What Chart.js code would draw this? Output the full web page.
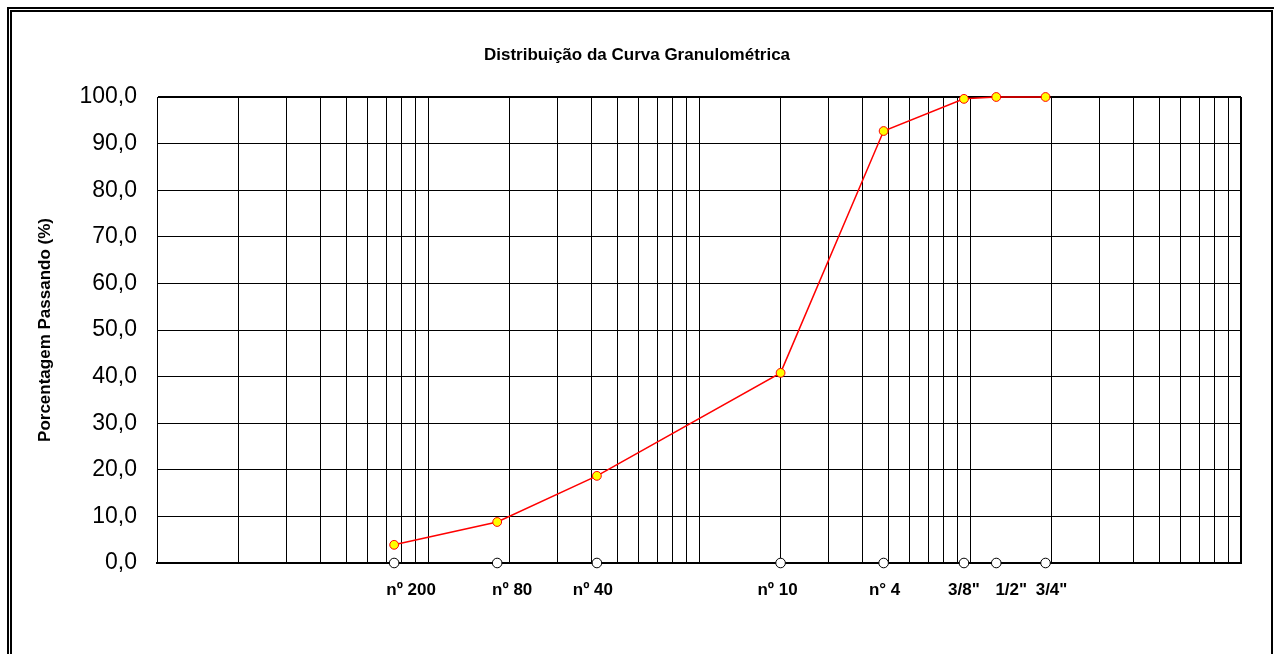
<!DOCTYPE html>
<html lang="pt-BR">
<head>
<meta charset="utf-8">
<title>Distribuição da Curva Granulométrica</title>
<script src="https://cdn.jsdelivr.net/npm/chart.js@4/dist/chart.umd.min.js"></script>
<style>
    html, body { margin: 0; padding: 0; background: #fff; overflow: hidden; }
    #wrap { position: relative; width: 1274px; height: 654px; }
    #granChart { position: absolute; left: 0; top: 0; }
    .frame { position: absolute; pointer-events: none; border-style: solid; border-color: #000; }
    .frame.outer { left: 7px; top: 7px; width: 1300px; height: 700px; border-width: 2px 0 0 2px; }
    .frame.inner { left: 10px; top: 10px; width: 1259px; height: 700px; border-width: 2px 2px 0 2px; }
</style>
</head>
<body>
<div id="wrap">
    <canvas id="granChart" width="1274" height="654"></canvas>
    <div class="frame outer"></div>
    <div class="frame inner"></div>
</div>
<script>
// Sieve series (openings in mm) and percentage passing
const sieveLabels = ['nº 200', 'nº 80', 'nº 40', 'nº 10', 'n° 4', '3/8"', '1/2"', '3/4"'];
const sieveSizes = [0.075, 0.18, 0.42, 2.0, 4.8, 9.5, 12.5, 19.0];
const percentPassing = [3.9, 8.8, 18.7, 40.8, 92.7, 99.6, 100.0, 100.0];

// Y axis ticks
const yTicks = [0, 10, 20, 30, 40, 50, 60, 70, 80, 90, 100];

// Log axis range (mm)
const sizeMin = 0.01;
const sizeMax = 100;

const fontFamily = "'Liberation Sans', Arial, sans-serif";

// small horizontal shifts (px) for the sieve name text boxes
const labelShift = [17, 15, -4, -3, 1, 0, 15, 6];

// Gridlines at 1..9 of every decade
function logGridTicks() {
    const ticks = [];
    for (let exp = Math.log10(sizeMin); exp < Math.log10(sizeMax); exp++) {
        for (let m = 1; m <= 9; m++) {
            ticks.push({ value: m * Math.pow(10, exp) });
        }
    }
    ticks.push({ value: sizeMax });
    return ticks;
}

// Draws the sieve names under the x axis
const sieveNamePlugin = {
    id: 'sieveNames',
    afterDraw(chart) {
        const scale = chart.scales.x;
        const c = chart.ctx;
        c.save();
        c.fillStyle = '#000';
        c.font = 'bold 17px ' + fontFamily;
        c.textAlign = 'center';
        c.textBaseline = 'middle';
        sieveSizes.forEach((s, i) => {
            const px = scale.getPixelForValue(s) + labelShift[i];
            c.fillText(sieveLabels[i], px, chart.chartArea.bottom + 27);
        });
        c.restore();
    }
};

const curveData = sieveSizes.map((s, i) => ({ x: s, y: percentPassing[i] }));
const sieveMarks = sieveSizes.map(s => ({ x: s, y: 0 }));

const ctx = document.getElementById('granChart').getContext('2d');
const granChart = new Chart(ctx, {
    type: 'line',
    data: {
        datasets: [
            {
                label: 'Peneiras',
                data: sieveMarks,
                showLine: false,
                pointRadius: 4.8,
                pointBackgroundColor: '#ffffff',
                pointBorderColor: '#000000',
                pointBorderWidth: 1,
                clip: false
            },
            {
                label: 'Porcentagem Passando',
                data: curveData,
                borderColor: '#ff0000',
                borderWidth: 1.5,
                tension: 0,
                pointRadius: 4.4,
                pointBackgroundColor: '#ffff00',
                pointBorderColor: '#ff0000',
                pointBorderWidth: 1,
                clip: false
            }
        ]
    },
    plugins: [sieveNamePlugin],
    options: {
        responsive: false,
        animation: false,
        devicePixelRatio: 1,
        layout: {
            padding: 0
        },
        plugins: {
            legend: { display: false },
            tooltip: { enabled: false },
            title: {
                display: true,
                text: 'Distribuição da Curva Granulométrica',
                color: '#000',
                font: { family: fontFamily, size: 17, weight: 'bold', lineHeight: 1.2 },
                padding: { top: 44.8, bottom: 31.8 }
            }
        },
        scales: {
            x: {
                type: 'logarithmic',
                position: 'bottom',
                min: sizeMin,
                max: sizeMax,
                afterBuildTicks: scale => { scale.ticks = logGridTicks(); },
                afterFit: scale => { scale.height = 91; },
                ticks: { display: false },
                grid: {
                    color: '#000',
                    lineWidth: c => (c.tick && c.tick.value === sizeMax ? 2 : 1),
                    drawTicks: false
                },
                border: { display: true, color: '#000', width: 2 }
            },
            y: {
                min: 0,
                max: 100,
                afterBuildTicks: scale => { scale.ticks = yTicks.map(v => ({ value: v })); },
                afterFit: scale => { scale.width = 157; },
                ticks: {
                    padding: 20,
                    color: '#000',
                    font: { family: fontFamily, size: 23 },
                    callback: value => value.toFixed(1).replace('.', ',')
                },
                grid: {
                    color: '#000',
                    lineWidth: c => (c.tick && c.tick.value === 100 ? 2 : 1),
                    drawTicks: false
                },
                border: { display: true, color: '#000', width: 1 },
                title: {
                    display: true,
                    text: 'Porcentagem Passando (%)',
                    color: '#000',
                    font: { family: fontFamily, size: 17, weight: 'bold', lineHeight: 1.2 },
                    padding: { top: 35, bottom: 0 }
                }
            },
            // empty right-hand margin
            yRight: {
                position: 'right',
                min: 0,
                max: 100,
                afterFit: scale => { scale.width = 33; },
                ticks: { display: false },
                grid: { display: false, drawTicks: false },
                border: { display: false }
            }
        }
    }
});
</script>
</body>
</html>
